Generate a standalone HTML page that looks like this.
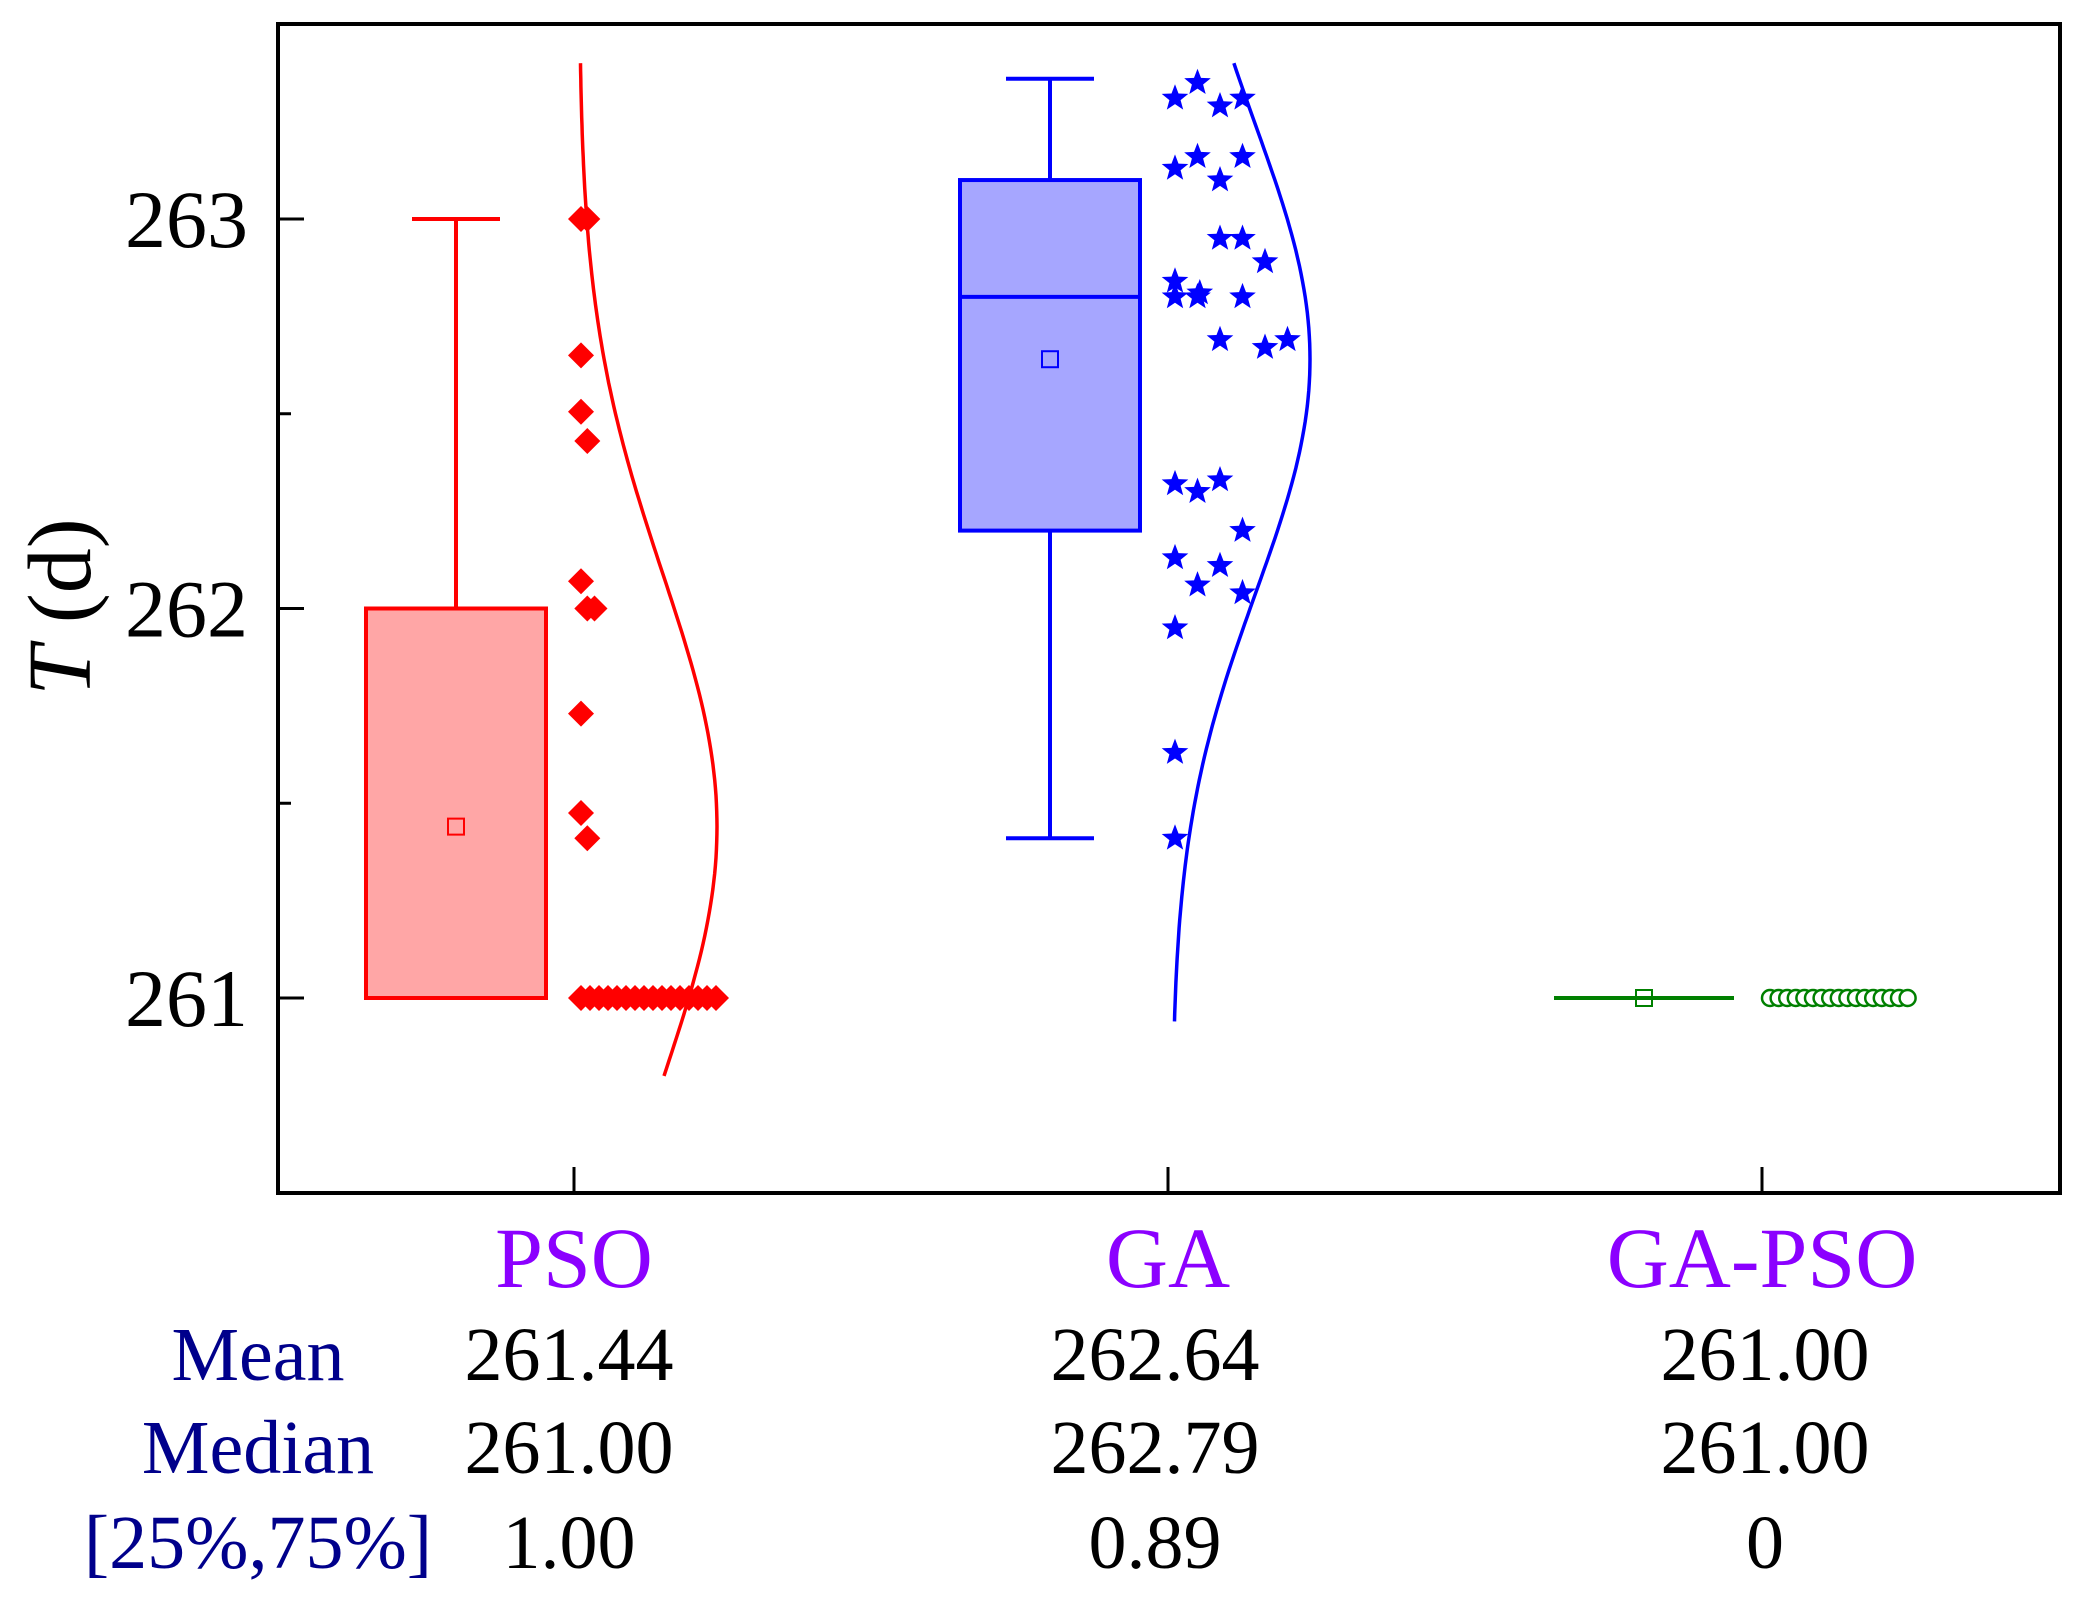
<!DOCTYPE html>
<html><head><meta charset="utf-8"><style>
html,body{margin:0;padding:0;background:#fff;}
svg{display:block;font-family:"Liberation Serif",serif;}
</style></head><body>
<svg id="chart" width="2084" height="1611" viewBox="0 0 2084 1611" xmlns="http://www.w3.org/2000/svg">
<rect x="278" y="24" width="1782" height="1169" fill="none" stroke="#000" stroke-width="4"/>
<g id="axes"></g>
<g id="marks"></g>
<text transform="translate(90,607) rotate(-90)" text-anchor="middle" font-size="90"><tspan font-style="italic">T</tspan> (d)</text>
<g id="table"></g>
</svg>
<script>
const categories=['PSO','GA','GA-PSO'];
const yTicks=[261,262,263];
const yMinor=[261.5,262.5];
const boxQ1=[261,262.2,261];
const boxQ3=[262,263.1,261];
const boxMedian=[261,262.8,261];
const whiskerLow=[261,261.41,261];
const whiskerHigh=[263,263.36,261];
const means=[261.44,262.64,261.00];
const psoPoints=[263,263,262.65,262.505,262.43,262.07,262,262,261.73,261.475,261.41,261,261,261,261,261,261,261,261,261,261,261,261,261,261,261,261];
const psoCols=[0,0.7,0,0,0.7,0,0.7,1.5,0,0,0.7,0,1,2,3,4,5,6,7,8,9,10,11,12,13,14,15];
const gaPoints=[263.31,263.35,263.29,263.31,263.13,263.16,263.10,263.16,262.95,262.95,262.89,262.84,262.80,262.80,262.81,262.80,262.69,262.67,262.69,262.32,262.30,262.33,262.20,262.13,262.11,262.06,262.04,261.95,261.63,261.41];
const gaCols=[0,1,2,3,0,1,2,3,2,3,4,0,0,1,1.1,3,2,4,5,0,1,2,3,0,2,1,3,0,0,0];
const gapsoPoints=[261,261,261,261,261,261,261,261,261,261,261,261,261,261,261,261,261];
const densMean=[261.44,262.64];
const densSd=[0.65,0.6];
const densRange=[[260.8,263.4],[260.94,263.4]];
const statLabels=['Mean','Median','[25%,75%]'];
const statMean=['261.44','262.64','261.00'];
const statMedian=['261.00','262.79','261.00'];
const statIqr=['1.00','0.89','0'];

const NS='http://www.w3.org/2000/svg';
const y=v=>998-(v-261)*389.5;
const xc=i=>574+i*594;
function mk(tag,attrs,parent){const e=document.createElementNS(NS,tag);for(const k in attrs)e.setAttribute(k,attrs[k]);parent.appendChild(e);return e;}
const axes=document.getElementById('axes'),marks=document.getElementById('marks'),table=document.getElementById('table');

yTicks.forEach(t=>{
 const l=mk('line',{x1:278,x2:304,y1:y(t),y2:y(t),stroke:'#000','stroke-width':3},axes);
 
 
 const tx=mk('text',{x:248,y:y(t)+28,'text-anchor':'end','font-size':82},axes);
 tx.textContent=t;
 
 
});
yMinor.forEach(t=>{
 const l=mk('line',{x1:278,x2:291,y1:y(t),y2:y(t),stroke:'#000','stroke-width':3},axes);
 
 
});
categories.forEach((c,i)=>{
 const l=mk('line',{x1:xc(i),x2:xc(i),y1:1193,y2:1167,stroke:'#000','stroke-width':3},axes);
 
 
 const tx=mk('text',{x:xc(i),y:1287,'text-anchor':'middle','font-size':86,fill:'#8b00ff'},axes);
 tx.textContent=c;
 
 
});

const colors=['#ff0000','#0000ff','#008000'];
const fills=['#ffa6a6','#a6a6ff','none'];
const bx=[456,1050,1644];
categories.forEach((c,i)=>{
 const g=mk('g',{},marks);
 
 
 const col=colors[i];
 if(boxQ3[i]>boxQ1[i]){
  mk('line',{x1:bx[i],x2:bx[i],y1:y(whiskerHigh[i]),y2:y(boxQ3[i]),stroke:col,'stroke-width':4},g);
  mk('line',{x1:bx[i],x2:bx[i],y1:y(whiskerLow[i]),y2:y(boxQ1[i]),stroke:col,'stroke-width':4},g);
  if(whiskerHigh[i]>boxQ3[i])mk('line',{x1:bx[i]-44,x2:bx[i]+44,y1:y(whiskerHigh[i]),y2:y(whiskerHigh[i]),stroke:col,'stroke-width':4},g);
  if(whiskerLow[i]<boxQ1[i])mk('line',{x1:bx[i]-44,x2:bx[i]+44,y1:y(whiskerLow[i]),y2:y(whiskerLow[i]),stroke:col,'stroke-width':4},g);
  mk('rect',{x:bx[i]-90,y:y(boxQ3[i]),width:180,height:y(boxQ1[i])-y(boxQ3[i]),fill:fills[i],stroke:col,'stroke-width':4},g);
  mk('line',{x1:bx[i]-90,x2:bx[i]+90,y1:y(boxMedian[i]),y2:y(boxMedian[i]),stroke:col,'stroke-width':4},g);
 } else {
  mk('line',{x1:bx[i]-90,x2:bx[i]+90,y1:y(boxMedian[i]),y2:y(boxMedian[i]),stroke:col,'stroke-width':4},g);
 }
 const m=mk('rect',{x:bx[i]-8,y:y(means[i])-8,width:16,height:16,fill:'none',stroke:col,'stroke-width':2},g);
 
 
});

psoPoints.forEach((v,k)=>{
 const px=581+psoCols[k]*9, py=y(v);
 const d=mk('polygon',{points:`${px},${py-13} ${px+13},${py} ${px},${py+13} ${px-13},${py}`,fill:'#ff0000'},marks);
 
 
});
function star(cx,cy,r){let p=[];for(let k=0;k<10;k++){const a=-Math.PI/2+k*Math.PI/5;const rr=k%2?r*0.42:r;p.push((cx+rr*Math.cos(a)).toFixed(1)+','+(cy+rr*Math.sin(a)).toFixed(1));}return p.join(' ');}
gaPoints.forEach((v,k)=>{
 const s=mk('polygon',{points:star(1175+gaCols[k]*22.5,y(v),14),fill:'#0000ff'},marks);
 
 
});
gapsoPoints.forEach((v,k)=>{
 const c=mk('circle',{cx:1770+k*8.6,cy:y(v),r:8,fill:'#fff',stroke:'#008000','stroke-width':2.5},marks);
 
 
});
const baseX=[579,1172];
[0,1].forEach(i=>{
 let pts=[];
 for(let v=densRange[i][0];v<=densRange[i][1]+1e-9;v+=0.02){
  const off=138*Math.exp(-((v-densMean[i])**2)/(2*densSd[i]**2));
  pts.push((baseX[i]+off).toFixed(1)+','+y(v).toFixed(1));
 }
 const p=mk('polyline',{points:pts.join(' '),fill:'none',stroke:colors[i],'stroke-width':3.5},marks);
 
 
});

const rowsY=[1380,1473,1568];
const cols=[569,1155,1765];
const rows=[statMean,statMedian,statIqr];
statLabels.forEach((l,r)=>{
 const t=mk('text',{x:258,y:rowsY[r],'text-anchor':'middle','font-size':76,fill:'#00008b'},table);
 t.textContent=l;
 
 
 rows[r].forEach((val,c)=>{
  const tv=mk('text',{x:cols[c],y:rowsY[r],'text-anchor':'middle','font-size':76,fill:'#000'},table);
  tv.textContent=val;
  
  
 });
});
</script>
</body></html>
